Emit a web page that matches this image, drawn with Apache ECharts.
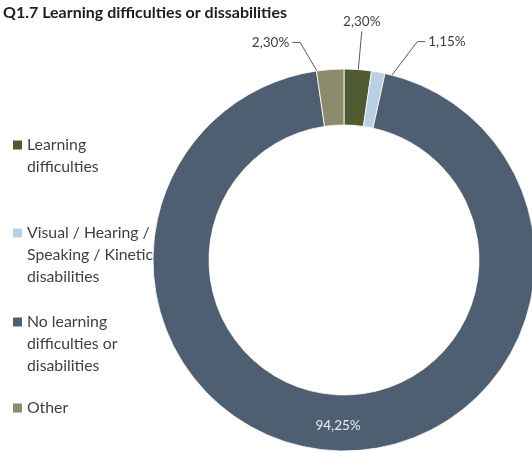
<!DOCTYPE html>
<html>
<head>
<meta charset="utf-8">
<script src="https://cdn.jsdelivr.net/npm/echarts@6/dist/echarts.min.js"></script>
<style>
  html, body { margin: 0; padding: 0; background: #fff; }
  #chart { width: 532px; height: 453px; }
</style>
</head>
<body>
<div id="chart"></div>
<script>
// Survey answers (share of respondents, %)
const categories = [
  'Learning difficulties',
  'Visual / Hearing / Speaking / Kinetic disabilities',
  'No learning difficulties or disabilities',
  'Other'
];
const shares = [2.30, 1.15, 94.25, 2.30];

// Wrapped legend text, one array of lines per category
const legendLines = [
  ['Learning', 'difficulties'],
  ['Visual / Hearing /', 'Speaking / Kinetic', 'disabilities'],
  ['No learning', 'difficulties or', 'disabilities'],
  ['Other']
];

const colors = ['#4f5a30', '#b9cfe2', '#4e5f71', '#8c8b6b'];
const FONT = 'Lato';

// Vertical position (first text line) of each legend entry
const legendRowY = [145, 233, 322, 408];
const LH = 22;

// Leader-line geometry for the small slices: elbow offset from the
// anchor point inside the ring, then a short horizontal tail.
const callouts = {
  0: { dx: 6, dy: -66, tail: 0 },
  1: { dx: 44, dy: -58, tail: 8 },
  3: { dx: -32, dy: -55, tail: -8 }
};

const fmtPct = v => v.toFixed(2).replace('.', ',') + '%';

const legends = categories.map((name, i) => {
  const n = legendLines[i].length;
  return {
    orient: 'vertical',
    left: 13,
    top: legendRowY[i] - 8,
    padding: 0,
    icon: 'rect',
    itemWidth: 9,
    itemHeight: 9,
    itemGap: 0,
    selectedMode: false,
    itemStyle: { borderWidth: 0 },
    data: [name],
    formatter: () => '{t|' + legendLines[i].join('\n') + '}',
    textStyle: {
      // top padding keeps the marker level with the first text line
      padding: [(n - 1) * LH, 0, 0, 0],
      rich: {
        t: { fontFamily: FONT, fontSize: 15.8, lineHeight: LH, color: '#3f3f3f' }
      }
    }
  };
});

const ringData = categories.map((name, i) => ({
  name: name,
  value: shares[i],
  itemStyle: { color: colors[i] },
  label: { show: shares[i] > 10 }
}));

const calloutData = categories.map((name, i) => ({
  name: name,
  value: shares[i],
  label: { show: shares[i] <= 10 },
  labelLine: { show: shares[i] <= 10 }
}));

const chart = echarts.init(document.getElementById('chart'), null, { renderer: 'canvas' });
chart.setOption({
  animation: false,
  title: {
    text: 'Q1.7 Learning difficulties or dissabilities',
    left: 3,
    top: 5,
    padding: 0,
    textStyle: { fontFamily: FONT, fontSize: 16, fontWeight: 'bold', color: '#1e1e1e' }
  },
  legend: legends,
  series: [
    {
      type: 'pie',
      center: [344, 260],
      radius: [135, 191],
      startAngle: 90,
      clockwise: true,
      avoidLabelOverlap: false,
      silent: true,
      itemStyle: { borderColor: '#ffffff', borderWidth: 0.8 },
      label: {
        position: 'inside',
        fontFamily: FONT,
        fontSize: 13.5,
        color: '#e6ebf0',
        formatter: p => fmtPct(p.value)
      },
      labelLine: { show: false },
      data: ringData
    },
    {
      // invisible copy of the ring, used only to anchor the callout labels mid-ring
      type: 'pie',
      center: [344, 260],
      radius: [0, 163],
      startAngle: 90,
      clockwise: true,
      avoidLabelOverlap: false,
      silent: true,
      emphasis: { disabled: true },
      itemStyle: { color: 'rgba(0,0,0,0)', borderWidth: 0 },
      label: {
        position: 'outside',
        fontFamily: FONT,
        fontSize: 13.5,
        color: '#3f3f3f',
        formatter: p => fmtPct(p.value)
      },
      labelLine: {
        length: 40,
        length2: 0,
        lineStyle: { color: '#5a5a5a', width: 1 }
      },
      labelLayout: function (params) {
        const c = callouts[params.dataIndex];
        if (!c || !params.labelLinePoints) return {};
        const p0 = params.labelLinePoints[0];
        const elbow = [p0[0] + c.dx, p0[1] + c.dy];
        const end = [elbow[0] + c.tail, elbow[1]];
        if (c.tail === 0) {
          return {
            x: end[0], y: end[1] - 3,
            align: 'center', verticalAlign: 'bottom',
            labelLinePoints: [p0, elbow, end]
          };
        }
        const dir = c.tail > 0 ? 1 : -1;
        return {
          x: end[0] + dir * 3, y: end[1],
          align: dir > 0 ? 'left' : 'right', verticalAlign: 'middle',
          labelLinePoints: [p0, elbow, end]
        };
      },
      data: calloutData
    }
  ]
});
</script>
</body>
</html>
